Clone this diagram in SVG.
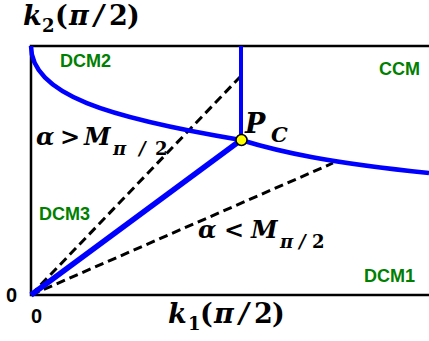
<svg xmlns="http://www.w3.org/2000/svg" width="429" height="341" viewBox="0 0 429 341">
<style>
.frame{fill:none;stroke:#000;stroke-width:2.5}
.blue{fill:none;stroke:#0000ff;stroke-linecap:butt}
.dash{fill:none;stroke:#000;stroke-width:3;stroke-dasharray:9,5}
.region{font-family:"Liberation Sans",Arial,sans-serif;font-weight:bold;font-size:18px;fill:#008000}
.math{font-family:"DejaVu Serif","Liberation Serif",serif;font-weight:bold;font-style:italic;fill:#000}
.up{font-style:normal}
.num{font-family:"Liberation Sans",Arial,sans-serif;font-weight:bold;font-size:20px;fill:#000}
</style>
<rect width="429" height="341" fill="#fff"/>
<g id="axes">
  <path class="frame" d="M429,46 H31 V295 H429"/>
</g>
<g id="connectors">
  <path id="dash-upper" class="dash" d="M31,295 L240,77"/>
  <path id="dash-lower" class="dash" d="M31,295 L333,163"/>
  <path id="boundary-curve-left" class="blue" stroke-width="4.5" d="M31,46 C31,95 110,118 241,140"/>
  <path id="boundary-curve-right" class="blue" stroke-width="4.5" d="M241,140 C280,152 330,163 429,173"/>
  <path id="boundary-vertical" class="blue" stroke-width="4" d="M241,46 V140"/>
  <path id="boundary-diagonal" class="blue" stroke-width="5.5" d="M31,295 L241,140"/>
</g>
<g id="node-pc">
  <circle cx="241.5" cy="140" r="5.5" fill="#ffff00" stroke="#000" stroke-width="1.5"/>
  <text class="math" y="133"><tspan x="245" font-size="27">P</tspan><tspan x="271" y="142" font-size="21">C</tspan></text>
</g>
<g id="label-k2">
  <text class="math" y="25" font-size="27"><tspan x="23">k</tspan><tspan x="42" y="32" font-size="18" class="up">2</tspan><tspan x="55" y="25" class="up">(</tspan><tspan x="69">π</tspan><tspan x="94">/</tspan><tspan x="109" class="up">2</tspan><tspan x="127" class="up">)</tspan></text>
</g>
<g id="label-k1">
  <text class="math" y="323" font-size="27"><tspan x="168">k</tspan><tspan x="188" y="330" font-size="18" class="up">1</tspan><tspan x="200" y="323" class="up">(</tspan><tspan x="214">π</tspan><tspan x="239">/</tspan><tspan x="254" class="up">2</tspan><tspan x="272" class="up">)</tspan></text>
</g>
<g id="label-alpha-gt">
  <text class="math" y="145" font-size="24"><tspan x="36">α</tspan><tspan x="60" class="up">&gt;</tspan><tspan x="84">M</tspan><tspan x="113" y="155" font-size="18">π</tspan><tspan x="139" y="155" font-size="18">/</tspan><tspan x="155" y="155" font-size="18" class="up">2</tspan></text>
</g>
<g id="label-alpha-lt">
  <text class="math" y="238" font-size="24"><tspan x="198">α</tspan><tspan x="224" class="up">&lt;</tspan><tspan x="251">M</tspan><tspan x="280" y="248" font-size="18">π</tspan><tspan x="299" y="248" font-size="18">/</tspan><tspan x="312" y="248" font-size="18" class="up">2</tspan></text>
</g>
<g id="region-dcm2"><text class="region" x="60" y="67">DCM2</text></g>
<g id="region-ccm"><text class="region" x="379" y="75">CCM</text></g>
<g id="region-dcm3"><text class="region" x="39" y="220">DCM3</text></g>
<g id="region-dcm1"><text class="region" x="364" y="282">DCM1</text></g>
<g id="tick-labels">
  <text class="num" x="6" y="302">0</text>
  <text class="num" x="31" y="323">0</text>
</g>
</svg>
